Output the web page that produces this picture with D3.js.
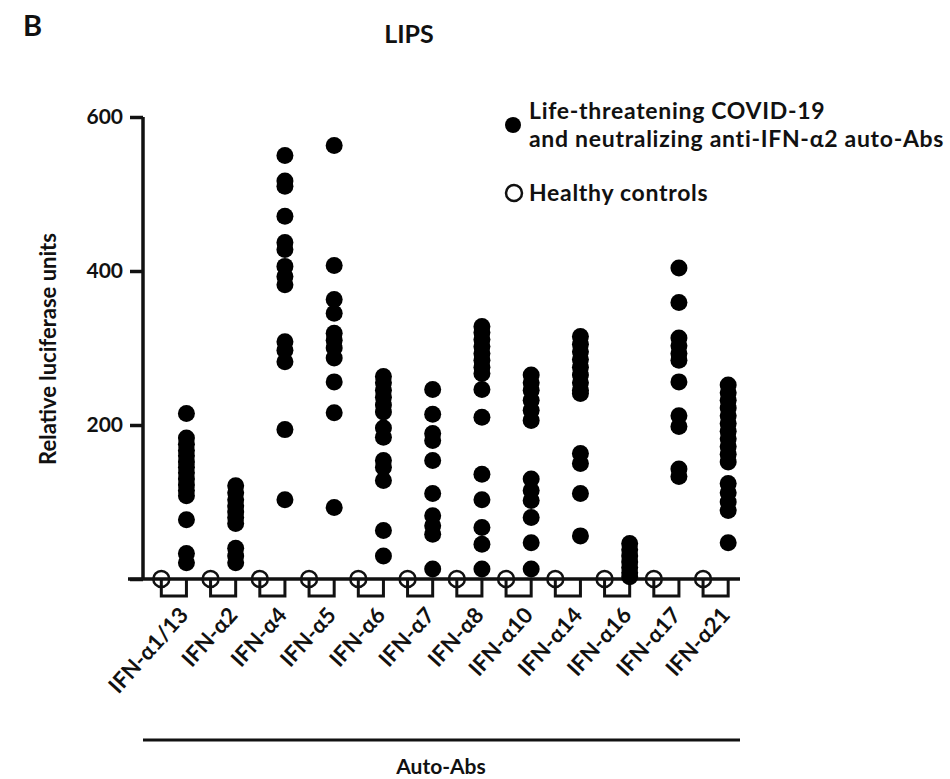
<!DOCTYPE html>
<html>
<head>
<meta charset="utf-8">
<script src="https://cdn.jsdelivr.net/npm/d3@7"></script>
<style>
  html, body { margin: 0; padding: 0; background: #fff; }
  svg { display: block; }
  text { font-family: Lato, "Open Sans", sans-serif; font-weight: bold; fill: #111; }
</style>
</head>
<body>
<svg id="chart" width="950" height="779"></svg>
<script>
// ---- data ----
const categories = ["IFN-α1/13","IFN-α2","IFN-α4","IFN-α5","IFN-α6","IFN-α7","IFN-α8","IFN-α10","IFN-α14","IFN-α16","IFN-α17","IFN-α21"];
const yTicks = [0, 200, 400, 600];
const yTickLabels = ["", "200", "400", "600"];

const patients_a1_13 = [215, 183, 175, 167, 160, 152, 145, 138, 130, 122, 115, 108, 77, 33, 21];
const patients_a2    = [121, 112, 103, 95, 87, 80, 72, 40, 30, 21];
const patients_a4    = [550, 517, 510, 471, 437, 428, 406, 393, 382, 308, 297, 282, 194, 103];
const patients_a5    = [563, 407, 363, 345, 319, 310, 300, 287, 256, 216, 93];
const patients_a6    = [263, 255, 245, 236, 226, 217, 196, 184, 154, 145, 128, 63, 30];
const patients_a7    = [246, 214, 189, 180, 154, 111, 82, 69, 58, 13];
const patients_a8    = [328, 320, 311, 302, 293, 284, 275, 267, 246, 210, 136, 103, 67, 45, 13];
const patients_a10   = [265, 255, 245, 232, 219, 206, 130, 115, 102, 80, 47, 13];
const patients_a14   = [315, 305, 295, 285, 275, 265, 255, 245, 241, 163, 150, 111, 56];
const patients_a16   = [46, 38, 30, 22, 15, 8, 3];
const patients_a17   = [404, 359, 313, 303, 293, 284, 256, 212, 198, 143, 133];
const patients_a21   = [252, 242, 232, 222, 212, 202, 192, 182, 172, 162, 152, 124, 112, 100, 89, 47];

const patientSeries = [patients_a1_13, patients_a2, patients_a4, patients_a5, patients_a6, patients_a7,
                       patients_a8, patients_a10, patients_a14, patients_a16, patients_a17, patients_a21];
const healthyValues = [0, 0, 0, 0, 0, 0, 0, 0, 0, 0, 0, 0];

const legendLabels = ["Life-threatening COVID-19", "and neutralizing anti-IFN-α2 auto-Abs", "Healthy controls"];

// ---- drawing ----
const svg = d3.select("#chart");
const axisX = 143;

const x = d3.scaleBand().domain(categories).range([149, 740]).paddingInner(0).paddingOuter(0);
const y = d3.scaleLinear().domain([0, 600]).range([579, 117]);
const healthyX = c => x(c) + x.bandwidth() * 0.25;
const patientX = c => x(c) + x.bandwidth() * 0.76;

// panel letter and title
svg.append("text").attr("x", 23).attr("y", 36).style("font-size", "29px").text("B");
svg.append("text").attr("x", 409).attr("y", 43).attr("text-anchor", "middle").style("font-size", "25px").text("LIPS");

// y axis
const yAxis = d3.axisLeft(y).tickValues(yTicks).tickFormat((d, i) => yTickLabels[i]).tickSize(13).tickPadding(7);
const gy = svg.append("g").attr("transform", `translate(${axisX},0)`).call(yAxis);
gy.select(".domain").attr("stroke", "#111").attr("stroke-width", 3.5).attr("d", `M0,${y(600)}V${y(0)}`);
gy.selectAll(".tick line").attr("stroke", "#111").attr("stroke-width", 3.5);
gy.selectAll(".tick text").style("font-size", "21px").style("font-family", "Lato, sans-serif").style("font-weight", "bold").attr("fill", "#111");

svg.append("text")
  .attr("transform", `translate(56,${349}) rotate(-90)`)
  .attr("text-anchor", "middle").style("font-size", "22px")
  .text("Relative luciferase units");

// x axis baseline
svg.append("line").attr("x1", 128).attr("x2", 740).attr("y1", y(0)).attr("y2", y(0))
  .attr("stroke", "#111").attr("stroke-width", 3.5);

// bracket shapes under the axis
svg.append("g").selectAll("path").data(categories).join("path")
  .attr("d", c => `M${healthyX(c)},${y(0)}V${y(0) + 17}H${patientX(c)}V${y(0)}`)
  .attr("fill", "none").attr("stroke", "#111").attr("stroke-width", 3);

// category labels
svg.append("g").selectAll("text").data(categories).join("text")
  .attr("transform", c => `translate(${patientX(c) + 3},${y(0) + 37}) rotate(-48)`)
  .attr("text-anchor", "end").style("font-size", "22px")
  .text(c => c);

// patient dots
const pts = [];
patientSeries.forEach((vals, i) => vals.forEach(v => pts.push({ c: categories[i], v })));
svg.append("g").selectAll("circle").data(pts).join("circle")
  .attr("cx", d => patientX(d.c)).attr("cy", d => y(d.v)).attr("r", 8.5).attr("fill", "#000");

// healthy controls
svg.append("g").selectAll("circle").data(healthyValues).join("circle")
  .attr("cx", (d, i) => healthyX(categories[i])).attr("cy", d => y(d)).attr("r", 8)
  .attr("fill", "none").attr("stroke", "#111").attr("stroke-width", 2.5);

// bottom group line and label
svg.append("line").attr("x1", 143).attr("x2", 740).attr("y1", 740).attr("y2", 740)
  .attr("stroke", "#111").attr("stroke-width", 3);
svg.append("text").attr("x", 441).attr("y", 774).attr("text-anchor", "middle").style("font-size", "21px").text("Auto-Abs");

// legend
const legendFont = "23px";
svg.append("circle").attr("cx", 513).attr("cy", 125).attr("r", 8).attr("fill", "#000");
svg.append("text").attr("x", 529).attr("y", 119).style("font-size", legendFont).style("letter-spacing", "0.7px").text(legendLabels[0]);
svg.append("text").attr("x", 529).attr("y", 147).style("font-size", legendFont).style("letter-spacing", "0.7px").text(legendLabels[1]);
svg.append("circle").attr("cx", 514).attr("cy", 193).attr("r", 8).attr("fill", "none").attr("stroke", "#111").attr("stroke-width", 2.5);
svg.append("text").attr("x", 529).attr("y", 201).style("font-size", legendFont).style("letter-spacing", "0.7px").text(legendLabels[2]);
</script>
</body>
</html>
